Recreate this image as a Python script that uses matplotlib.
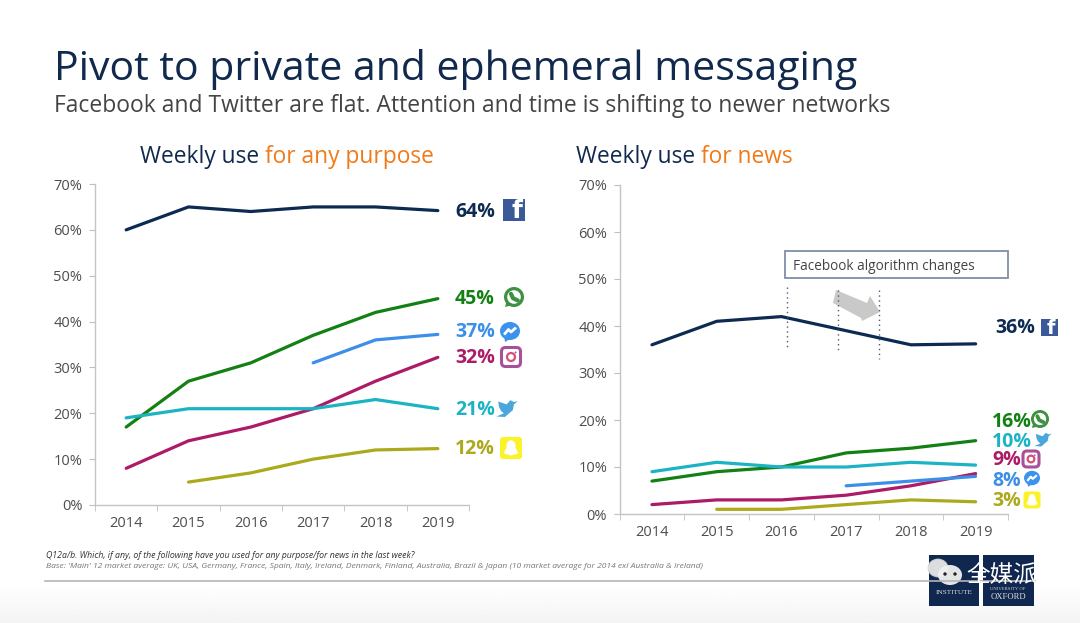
import numpy as np
import matplotlib
matplotlib.use("Agg")
import matplotlib.pyplot as plt
from matplotlib.patches import Rectangle, Circle, FancyBboxPatch, Polygon, Ellipse
from matplotlib.ticker import FuncFormatter

plt.rcParams['font.family'] = ['Open Sans', 'Noto Sans CJK SC', 'DejaVu Sans']

years = [2014, 2015, 2016, 2017, 2018, 2019]
nan = float('nan')
# any purpose
any_facebook = [60, 65, 64, 65, 65, 64.2]
any_whatsapp = [17, 27, 31, 37, 42, 45]
any_messenger = [nan, nan, nan, 31, 36, 37.2]
any_instagram = [8, 14, 17, 21, 27, 32.2]
any_twitter = [19, 21, 21, 21, 23, 21]
any_snapchat = [nan, 5, 7, 10, 12, 12.3]
# news
news_facebook = [36, 41, 42, 39, 36, 36.2]
news_whatsapp = [7, 9, 10, 13, 14, 15.6]
news_twitter = [9, 11, 10, 10, 11, 10.4]
news_instagram = [2, 3, 3, 4, 6, 8.6]
news_messenger = [nan, nan, nan, 6, 7, 8]
news_snapchat = [nan, 1, 1, 2, 3, 2.6]

NAVY = '#0d2a52'; GREEN = '#138013'; BLUE = '#3b8fe8'; MAG = '#ad1a66'
TEAL = '#1cb3c4'; OLIVE = '#aba91c'; ORANGE = '#f07a1a'; GREY = '#4d4d4d'

W, H = 1080, 623
fig = plt.figure(figsize=(W/100, H/100), dpi=100, facecolor='white')

def axes_px(l, t, r, b, **k):
    return fig.add_axes([l/W, 1-b/H, (r-l)/W, (b-t)/H], **k)

ov = axes_px(0, 0, W, H, zorder=5)
ov.set_xlim(0, W); ov.set_ylim(H, 0); ov.axis('off'); ov.patch.set_alpha(0)
bg = axes_px(0, 585, W, H, zorder=0)
bg.imshow(np.linspace(1, 0.955, 64)[:, None], cmap='gray', vmin=0, vmax=1, aspect='auto')
bg.axis('off')

def chart(ax, series, xlim=(-0.5, 5.5)):
    x = np.arange(len(years))
    for vals, col in series:
        ax.plot(x, vals, color=col, lw=2.3, solid_capstyle='round', solid_joinstyle='round', zorder=3)
    ax.set_xlim(*xlim); ax.set_ylim(0, 70)
    ax.set_xticks(x, years)
    ax.set_xticks(np.arange(-0.5, 6, 1), minor=True)
    ax.set_yticks(range(0, 71, 10))
    ax.yaxis.set_major_formatter(FuncFormatter(lambda v, _: f'{int(v)}%'))
    ax.tick_params(axis='x', which='major', length=0, labelsize=10.5, labelcolor=GREY, pad=8)
    ax.tick_params(axis='x', which='minor', length=4, color='#bfbfbf', direction='out')
    ax.tick_params(axis='y', length=4, color='#bfbfbf', labelsize=10.5, labelcolor=GREY, pad=5)
    for s in ('top', 'right'):
        ax.spines[s].set_visible(False)
    for s in ('left', 'bottom'):
        ax.spines[s].set_color('#c4c4c4'); ax.spines[s].set_linewidth(1)
    ax.patch.set_alpha(0)

a1 = axes_px(95, 184, 469, 505, zorder=2)
chart(a1, [(any_facebook, NAVY), (any_whatsapp, GREEN), (any_messenger, BLUE),
           (any_instagram, MAG), (any_twitter, TEAL), (any_snapchat, OLIVE)])
a2 = axes_px(619.6, 185, 1008, 514, zorder=2)
chart(a2, [(news_facebook, NAVY), (news_whatsapp, GREEN), (news_twitter, TEAL),
           (news_instagram, MAG), (news_messenger, BLUE), (news_snapchat, OLIVE)])

# titles
ov.text(54, 69, 'Pivot to private and ephemeral messaging', fontsize=29.5, color='#10294d', va='center', ha='left')
ov.text(54, 106, 'Facebook and Twitter are flat. Attention and time is shifting to newer networks',
        fontsize=16.5, color='#444444', va='center', ha='left')

def two_tone(x, y, a, b):
    t = ov.text(x, y, a, fontsize=16.4, color='#10294d', va='center', ha='left')
    fig.canvas.draw()
    bb = t.get_window_extent()
    ov.text(bb.x1 + 6, y, b, fontsize=16.4, color=ORANGE, va='center', ha='left')

two_tone(140, 157, 'Weekly use', 'for any purpose')
two_tone(576, 157, 'Weekly use', 'for news')

# end labels
def lab(x, y, s, c, size=14):
    ov.text(x, y, s, color=c, fontsize=size, fontweight='bold', va='center', ha='left')

for y, s, c in [(212, '64%', NAVY), (299, '45%', GREEN), (332, '37%', BLUE),
                (358, '32%', MAG), (410, '21%', TEAL), (449, '12%', OLIVE)]:
    lab(455, y, s, c)
lab(995, 328, '36%', NAVY)
for x, y, s, c in [(992, 422, '16%', GREEN), (992, 442, '10%', TEAL), (992, 460, '9%', MAG),
                   (992, 481, '8%', BLUE), (992, 501, '3%', OLIVE)]:
    lab(x, y, s, c)

# icons
def fb(cx, cy, s):
    ov.add_patch(Rectangle((cx-s/2, cy-s/2), s, s, color='#3b5998', lw=0))
    ov.text(cx+s*0.12, cy+s*0.06, 'f', color='white', fontsize=s*0.82, fontweight='bold',
            ha='center', va='center', family='DejaVu Sans')

def wa(cx, cy, r):
    ov.add_patch(Polygon([(cx-r*.9, cy+r), (cx-r*.7, cy+r*.3), (cx-r*.1, cy+r*.8)], color='#3d9140', lw=0))
    ov.add_patch(Circle((cx, cy), r, color='#3d9140', lw=0))
    ov.add_patch(Circle((cx, cy), r*.68, color='white', lw=0))
    ov.plot([cx-r*.3, cx-r*.1, cx+r*.38], [cy-r*.32, cy+r*.12, cy+r*.35], color='#3d9140', lw=r*.3, solid_capstyle='round')

def ms(cx, cy, r):
    ov.add_patch(Polygon([(cx-r*.5, cy+r*1.1), (cx-r*.6, cy+r*.4), (cx, cy+r*.8)], color='#3a94ee', lw=0))
    ov.add_patch(Ellipse((cx, cy), 2*r, 1.8*r, color='#3a94ee', lw=0))
    ov.plot([cx-r*.5, cx-r*.15, cx+r*.1, cx+r*.5], [cy+r*.25, cy-r*.15, cy+r*.1, cy-r*.25], color='white', lw=r*.2)

def ig(cx, cy, s):
    ov.add_patch(FancyBboxPatch((cx-s/2+2, cy-s/2+2), s-4, s-4, boxstyle='round,pad=2,rounding_size=4',
                                fc='none', ec='#a8509a', lw=2.2))
    ov.add_patch(Circle((cx, cy), s*.21, fc='none', ec='#d2507a', lw=1.6))
    ov.add_patch(Circle((cx+s*.24, cy-s*.24), s*.05, color='#b0458f', lw=0))

def tw(cx, cy, s):
    ov.add_patch(Polygon([(cx-s*.5, cy+s*.36), (cx-s*.1, cy+s*.38), (cx+s*.28, cy+s*.05), (cx+s*.33, cy-s*.22),
                          (cx+s*.52, cy-s*.38), (cx+s*.34, cy-s*.33), (cx+s*.16, cy-s*.42), (cx-s*.02, cy-s*.22),
                          (cx-s*.42, cy-s*.36), (cx-s*.38, cy-s*.1), (cx-s*.28, cy+s*.1), (cx-s*.15, cy+s*.2)],
                         closed=True, color='#4aa6dc', lw=0, joinstyle='round'))

def sc(cx, cy, s):
    ov.add_patch(FancyBboxPatch((cx-s/2+2, cy-s/2+2), s-4, s-4, boxstyle='round,pad=2,rounding_size=3',
                                fc='#fbf32a', ec='none'))
    ov.add_patch(Ellipse((cx, cy-s*.1), s*.42, s*.5, fc='white', ec='none'))
    ov.add_patch(Polygon([(cx-s*.34, cy+s*.24), (cx-s*.18, cy-s*.05), (cx+s*.18, cy-s*.05), (cx+s*.34, cy+s*.24),
                          (cx, cy+s*.34)], fc='white', ec='none'))

fb(514, 210, 22); wa(514, 297, 10); ms(510, 331, 10); ig(511, 357, 19); tw(507, 409, 21); sc(511, 448, 22)
fb(1049, 327, 17); wa(1040, 419, 9); tw(1043, 440, 17); ig(1031, 459, 16); ms(1032, 478, 8); sc(1032, 500, 17)

# algorithm annotation
ov.add_patch(Rectangle((785, 251), 223, 27, fc='white', ec='#7e8fa6', lw=1.3))
ov.text(793, 267, 'Facebook algorithm changes', fontsize=9.85, color='#444444', va='center', ha='left')
ov.add_patch(Polygon([(836, 290), (833, 303), (861, 318), (862, 321), (880, 312), (870, 296), (867, 303)],
                     color='#c9c9c9', lw=0, zorder=1))
for x, t, b in [(787, 287, 347), (838, 290, 352), (879, 290, 359)]:
    ov.plot([x, x], [t, b], color='#4a5a78', lw=1, ls=(0, (1, 2.5)), zorder=2)

# footnotes
ov.text(46, 556, 'Q12a/b. Which, if any, of the following have you used for any purpose/for news in the last week?',
        fontsize=6.3, style='italic', color='#333333', va='center')
ov.text(46, 567, "Base: 'Main' 12 market average: UK, USA, Germany, France, Spain, Italy, Ireland, Denmark, Finland, Australia, Brazil & Japan (10 market average for 2014 exl Australia & Ireland)",
        fontsize=6.1, style='italic', color='#777777', va='center')
ov.plot([45, 1035], [581, 581], color='#b5b5b5', lw=1.2)

# logos
ov.add_patch(Rectangle((929, 555), 50, 51, color='#10284f', lw=0))
ov.add_patch(Rectangle((983, 555), 51, 51, color='#10284f', lw=0))
ov.text(954, 593, 'INSTITUTE', color='#dddddd', fontsize=5.2, family='Liberation Serif', ha='center', va='center')
ov.text(1008, 597, 'OXFORD', color='#dddddd', fontsize=6.2, family='Liberation Serif', ha='center', va='center')
ov.text(1008, 589, 'UNIVERSITY OF', color='#cccccc', fontsize=3.4, family='Liberation Serif', ha='center', va='center')

# watermark
ov.add_patch(Ellipse((938, 568), 20, 18, fc='#f2f2f2', ec='#cccccc', lw=.6, alpha=.9))
ov.add_patch(Ellipse((950, 575), 24, 20, fc='#f0f0f0', ec='none', alpha=.95))
ov.add_patch(Circle((945, 574), 1.7, color='#222222', lw=0))
ov.add_patch(Circle((955, 574), 1.7, color='#222222', lw=0))
ov.text(966, 575, '全媒派', color='white', fontsize=17, ha='left', va='center',
        family=['Noto Sans CJK SC', 'DejaVu Sans'])

fig.savefig('out.png', dpi=100, facecolor='white')
